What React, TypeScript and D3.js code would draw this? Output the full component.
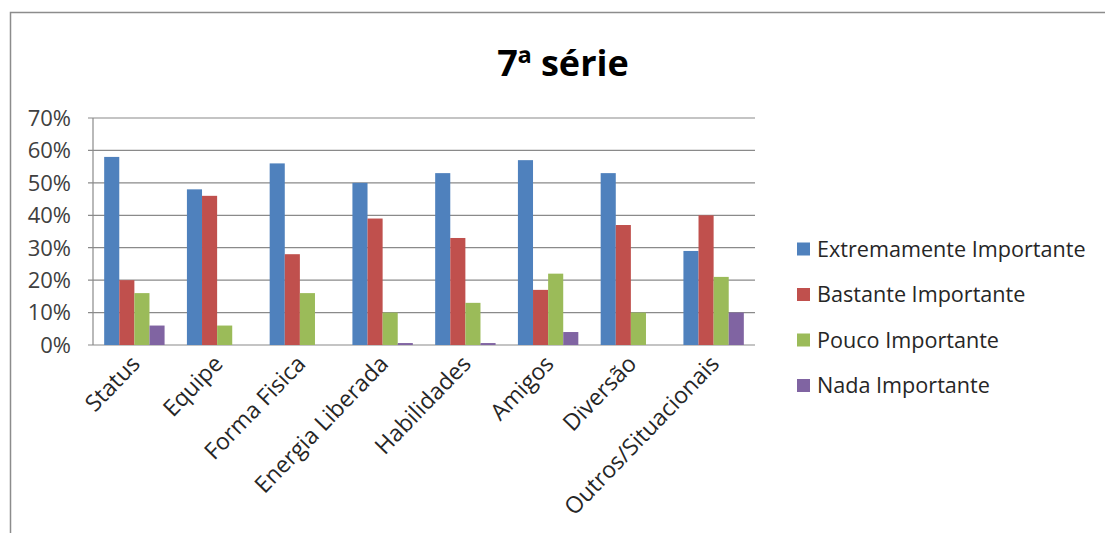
import React from "react";
import * as d3 from "d3";

const categories = ["Status", "Equipe", "Forma Fisica", "Energia Liberada", "Habilidades", "Amigos", "Diversão", "Outros/Situacionais"];
const seriesNames = ["Extremamente Importante", "Bastante Importante", "Pouco Importante", "Nada Importante"];
const extremamente = [58, 48, 56, 50, 53, 57, 53, 29];
const bastante = [20, 46, 28, 39, 33, 17, 37, 40];
const pouco = [16, 6, 16, 10, 13, 22, 10, 21];
const nada = [6, 0, 0, 0.6, 0.6, 4, 0, 10];
const yTicks = [0, 10, 20, 30, 40, 50, 60, 70];
const colors = ["#4F81BD", "#C0504D", "#9BBB59", "#8064A2"];

const W = 1105, H = 533;
const plot = { left: 93, right: 755, top: 118, bottom: 345 };
const FONT = "'Open Sans', Lato, sans-serif";

export default function App() {
  const series = [extremamente, bastante, pouco, nada];
  const x = d3.scaleBand().domain(categories).range([plot.left, plot.right]).paddingInner(0.27).paddingOuter(0.135);
  const xs = d3.scaleBand().domain(seriesNames).range([0, x.bandwidth()]);
  const y = d3.scaleLinear().domain([0, 70]).range([plot.bottom, plot.top]);

  return (
    <svg width={W} height={H} style={{ position: "absolute", left: 0, top: 0, background: "#fff" }} fontFamily={FONT}>
      <rect x={10.5} y={12.5} width={1110} height={540} fill="#fff" stroke="#8c8c8c" strokeWidth={1.5} />
      <text x={563} y={76} textAnchor="middle" fontSize={36} fontWeight="bold" fill="#000">7ª série</text>
      {yTicks.map((t) => (
        <g key={t}>
          <line x1={plot.left - 5} x2={plot.right} y1={y(t)} y2={y(t)} stroke="#8a8a8a" strokeWidth={1.2} />
          <text x={71} y={y(t)} dy="0.36em" textAnchor="end" fontSize={22} fill="#404040">{t}%</text>
        </g>
      ))}
      <line x1={plot.left} x2={plot.left} y1={plot.top} y2={plot.bottom} stroke="#8a8a8a" strokeWidth={1.2} />
      {categories.map((c, i) => (
        <g key={c}>
          {series.map((s, j) => (
            <rect key={j} x={(x(c) as number) + (xs(seriesNames[j]) as number)} y={y(s[i])} width={xs.bandwidth()} height={plot.bottom - y(s[i])} fill={colors[j]} />
          ))}
          <text transform={`translate(${(x(c) as number) + x.bandwidth() / 2 + 7},${plot.bottom + 20}) rotate(-46)`} textAnchor="end" fontSize={23} fill="#262626">{c}</text>
        </g>
      ))}
      {seriesNames.map((n, j) => (
        <g key={n} transform={`translate(797,${249 + j * 45.5})`}>
          <rect x={0} y={-6.5} width={13} height={13} fill={colors[j]} />
          <text x={20} y={0} dy="0.36em" fontSize={21.6} fill="#262626">{n}</text>
        </g>
      ))}
    </svg>
  );
}
